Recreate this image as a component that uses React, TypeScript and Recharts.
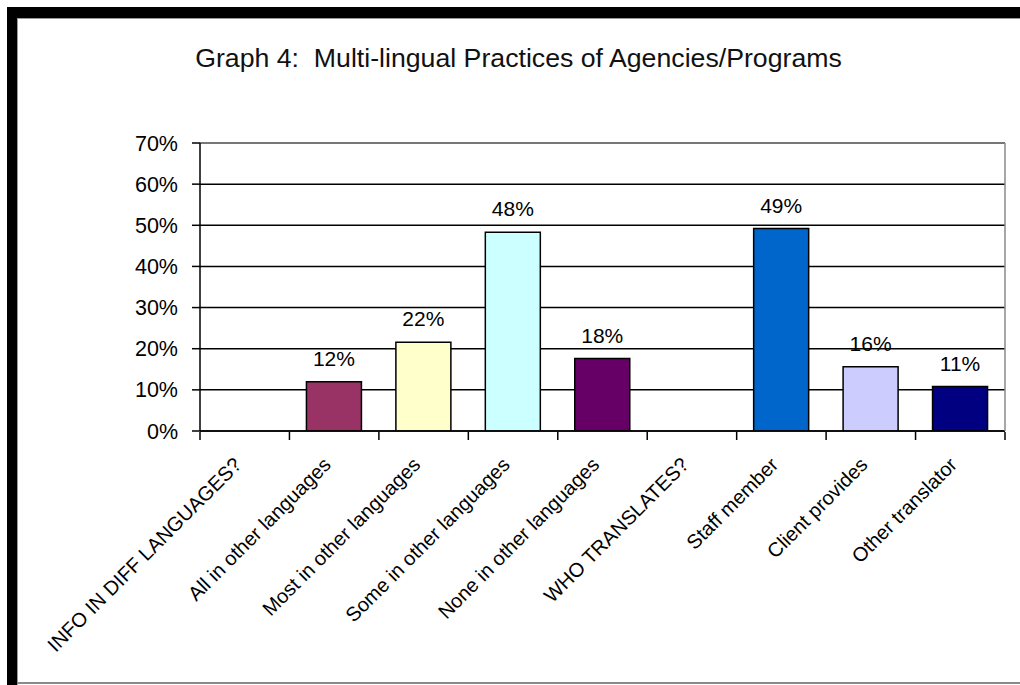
import React from 'react';
import {
  BarChart,
  Bar,
  Cell,
  XAxis,
  YAxis,
  CartesianGrid,
  ReferenceLine,
  LabelList
} from 'recharts';

const categories = [
  'INFO IN DIFF LANGUAGES?',
  'All in other languages',
  'Most in other languages',
  'Some in other languages',
  'None in other languages',
  'WHO TRANSLATES?',
  'Staff member',
  'Client provides',
  'Other translator'
];
const shares = [null, 0.12, 0.216, 0.483, 0.176, null, 0.492, 0.156, 0.108];
const barColors = ['#ffffff', '#993366', '#ffffcc', '#ccffff', '#660066', '#ffffff', '#0066cc', '#ccccff', '#000080'];
const yTicks = [0, 0.1, 0.2, 0.3, 0.4, 0.5, 0.6, 0.7];
const edgeTicks = [0, 1, 2, 3, 4, 5, 6, 7, 8, 9];

const FONT = '"Liberation Sans", Arial, sans-serif';

const data = categories.map((name, i) => ({ name, pos: i + 0.5, share: shares[i] }));

const pct = (v: number) => `${Math.round(v * 100)}%`;

// labels are anchored at their end, a little below the axis, then slanted
const SlantTick = (props: any) => {
  const { x, payload } = props;
  const tx = x - 2;
  const ty = 466;
  return (
    <text
      x={tx}
      y={ty}
      textAnchor="end"
      fontSize={20}
      fontFamily={FONT}
      fill="#000"
      transform={`rotate(-45 ${tx} ${ty})`}
    >
      {payload.value}
    </text>
  );
};

const NoLabel = () => <g />;

const App: React.FC = () => {
  return (
    <div style={{ position: 'absolute', left: 0, top: 0, width: 1020, height: 685, background: '#fff', fontFamily: FONT }}>
      {/* frame */}
      <div style={{ position: 'absolute', left: 7, top: 7, width: 1013, height: 11, background: '#000' }} />
      <div style={{ position: 'absolute', left: 7, top: 7, width: 10, height: 678, background: '#000' }} />
      <div style={{ position: 'absolute', left: 17, top: 18, width: 1003, height: 1, background: '#9a9a9a' }} />
      <div style={{ position: 'absolute', left: 17, top: 18, width: 1, height: 667, background: '#9a9a9a' }} />
      <div style={{ position: 'absolute', left: 17, top: 682, width: 1003, height: 2, background: '#8a8a8a' }} />

      <div
        style={{
          position: 'absolute',
          left: 17,
          top: 43,
          width: 1003,
          textAlign: 'center',
          fontSize: 26.7,
          lineHeight: '30px',
          color: '#111',
          whiteSpace: 'pre'
        }}
      >
        {'Graph 4:  Multi-lingual Practices of Agencies/Programs'}
      </div>

      <div style={{ position: 'absolute', left: 0, top: 0 }}>
        <BarChart
          width={1020}
          height={685}
          data={data}
          margin={{ top: 143, right: 14, bottom: 252, left: 140 }}
          barCategoryGap="19%"
        >
          <CartesianGrid xAxisId="cat" yAxisId="l" vertical={false} stroke="#000" strokeWidth={1.5} />
          <XAxis
            xAxisId="edges"
            dataKey="pos"
            type="number"
            domain={[0, 9]}
            ticks={edgeTicks}
            interval={0}
            tick={<NoLabel />}
            axisLine={false}
            tickLine={{ stroke: '#000', strokeWidth: 1.5 }}
            tickSize={8}
            height={1}
          />
          <XAxis
            xAxisId="cat"
            dataKey="name"
            interval={0}
            height={1}
            tickSize={0}
            tickMargin={0}
            tickLine={false}
            axisLine={{ stroke: '#000', strokeWidth: 1.5 }}
            tick={<SlantTick />}
          />
          <YAxis
            yAxisId="l"
            width={60}
            domain={[0, 0.7]}
            ticks={yTicks}
            allowDataOverflow
            tickFormatter={pct}
            tickSize={8}
            tickMargin={14}
            axisLine={{ stroke: '#000', strokeWidth: 1.5 }}
            tickLine={{ stroke: '#000', strokeWidth: 1.5 }}
            tick={{ fill: '#000', fontSize: 21.5, fontFamily: FONT }}
          />
          <YAxis
            yAxisId="r"
            orientation="right"
            width={1}
            domain={[0, 0.7]}
            tick={false}
            tickLine={false}
            axisLine={{ stroke: '#8a8a8a', strokeWidth: 1.5 }}
          />
          <ReferenceLine yAxisId="l" xAxisId="cat" y={0.7} stroke="#8a8a8a" strokeWidth={1.5} />
          <Bar
            xAxisId="cat"
            yAxisId="l"
            dataKey="share"
            stroke="#000"
            strokeWidth={1.5}
            isAnimationActive={false}
          >
            {data.map((d, i) => (
              <Cell key={d.name} fill={barColors[i]} />
            ))}
            <LabelList
              dataKey="share"
              position="top"
              offset={16}
              formatter={(v: any) => (v == null ? '' : pct(v))}
              style={{ fill: '#000', fontSize: 21, fontFamily: FONT }}
            />
          </Bar>
        </BarChart>
      </div>
    </div>
  );
};

export default App;
